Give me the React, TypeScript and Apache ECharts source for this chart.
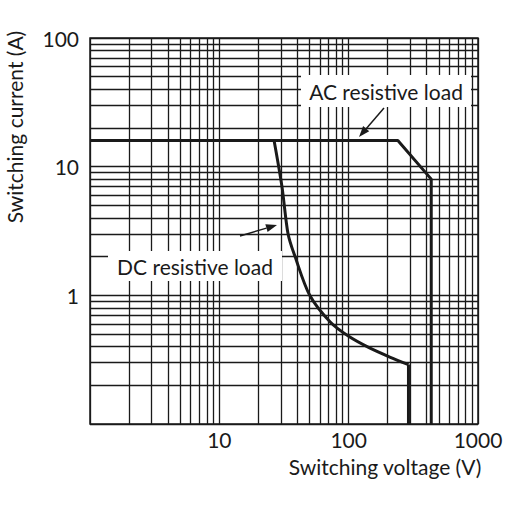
import { useEffect, useRef } from 'react';
import * as echarts from 'echarts';

// switching capacity curves (voltage V, current A)
const acCurve: [number, number][] = [[1, 16], [240, 16], [435, 8], [435, 0.1]];
const dcCurve: [number, number][] = [
  [26.5, 16], [30.5, 7], [34, 3], [38.5, 2], [50, 1], [72, 0.62],
  [100, 0.48], [145, 0.39], [210, 0.33], [290, 0.29],
];
const dcCutoff: [number, number][] = [[290, 0.29], [290, 0.1]];

const xDecades = [1, 10, 100];
const yDecades = [0.1, 1, 10];
const minorSteps = [2, 3, 4, 5, 6, 7, 8, 9];
const xTickLabels = ['10', '100', '1000'];
const yTickLabels = ['1', '10', '100'];

const INK = '#1a1a1a';
const FONT = 'Lato, "Noto Sans", sans-serif';

const arrow = (x1: number, y1: number, x2: number, y2: number) => {
  const a = Math.atan2(y2 - y1, x2 - x1);
  const len = 11, w = 4;
  const bx = x2 - len * Math.cos(a), by = y2 - len * Math.sin(a);
  return [
    { type: 'line', z: 120, shape: { x1, y1, x2: bx, y2: by }, style: { stroke: INK, lineWidth: 1.5 } },
    {
      type: 'polygon', z: 120,
      shape: { points: [[x2, y2], [bx + w * Math.sin(a), by - w * Math.cos(a)], [bx - w * Math.sin(a), by + w * Math.cos(a)]] },
      style: { fill: INK },
    },
  ];
};

const labelBox = (cx: number, cy: number, w: number, h: number, text: string) => [
  { type: 'rect', z: 110, shape: { x: cx - w / 2, y: cy - h / 2, width: w, height: h }, style: { fill: '#fff' } },
  {
    type: 'text', z: 115, x: cx, y: cy,
    style: { text, fill: INK, font: `21px ${FONT}`, align: 'center', verticalAlign: 'middle' },
  },
];

const App = () => {
  const chartRef = useRef<HTMLDivElement>(null);

  useEffect(() => {
    if (!chartRef.current) return;
    const chart = echarts.init(chartRef.current, undefined, { renderer: 'svg' });

    const gridLines: any[] = [];
    xDecades.forEach((d) => minorSteps.forEach((m) => gridLines.push({ xAxis: d * m })));
    yDecades.forEach((d) => minorSteps.forEach((m) => gridLines.push({ yAxis: d * m })));

    const lineStyle = { color: INK, width: 1.3 };

    chart.setOption({
      animation: false,
      grid: { left: 90, top: 38, right: 34, bottom: 88, show: true, borderColor: INK, borderWidth: 1.5 },
      xAxis: {
        type: 'log', logBase: 10, min: 1, max: 1000,
        axisLine: { show: false }, axisTick: { show: false },
        splitLine: { show: true, lineStyle },
        axisLabel: {
          margin: 5, color: INK, fontSize: 21, fontFamily: FONT, lineHeight: 21,
          formatter: (v: number) => xTickLabels.find((t) => Number(t) === Math.round(v)) ?? '',
        },
      },
      yAxis: {
        type: 'log', logBase: 10, min: 0.1, max: 100,
        axisLine: { show: false }, axisTick: { show: false },
        splitLine: { show: true, lineStyle },
        axisLabel: {
          margin: 11, color: INK, fontSize: 21, fontFamily: FONT,
          formatter: (v: number) => yTickLabels.find((t) => Math.abs(Number(t) - v) < 1e-6) ?? '',
        },
      },
      series: [
        {
          type: 'line', data: [], z: 1, silent: true,
          markLine: {
            silent: true, symbol: ['none', 'none'], label: { show: false },
            lineStyle: { type: 'solid', ...lineStyle }, data: gridLines,
          },
        },
        { type: 'line', data: acCurve, z: 5, symbol: 'none', lineStyle: { color: INK, width: 3 } },
        {
          type: 'line', data: dcCurve, z: 5, symbol: 'none', smooth: 0.3,
          lineStyle: { color: INK, width: 3 },
        },
        { type: 'line', data: dcCutoff, z: 5, symbol: 'none', lineStyle: { color: INK, width: 3 } },
      ],
      graphic: [
        ...labelBox(386, 91, 170, 32, 'AC resistive load'),
        ...arrow(384, 108, 359, 137),
        ...labelBox(195, 266, 174, 30, 'DC resistive load'),
        ...arrow(240, 236, 277, 225),
        {
          type: 'text', x: 385, y: 466, z: 100,
          style: { text: 'Switching voltage (V)', fill: INK, font: `21px ${FONT}`, align: 'center', verticalAlign: 'middle' },
        },
        {
          type: 'text', x: 14, y: 127, z: 100, rotation: Math.PI / 2,
          style: { text: 'Switching current (A)', fill: INK, font: `21px ${FONT}`, align: 'center', verticalAlign: 'middle' },
        },
      ],
    });

    return () => {
      chart.dispose();
    };
  }, []);

  return <div ref={chartRef} style={{ position: 'fixed', left: 0, top: 0, width: '512px', height: '512px', background: '#fff' }} />;
};

export default App;
